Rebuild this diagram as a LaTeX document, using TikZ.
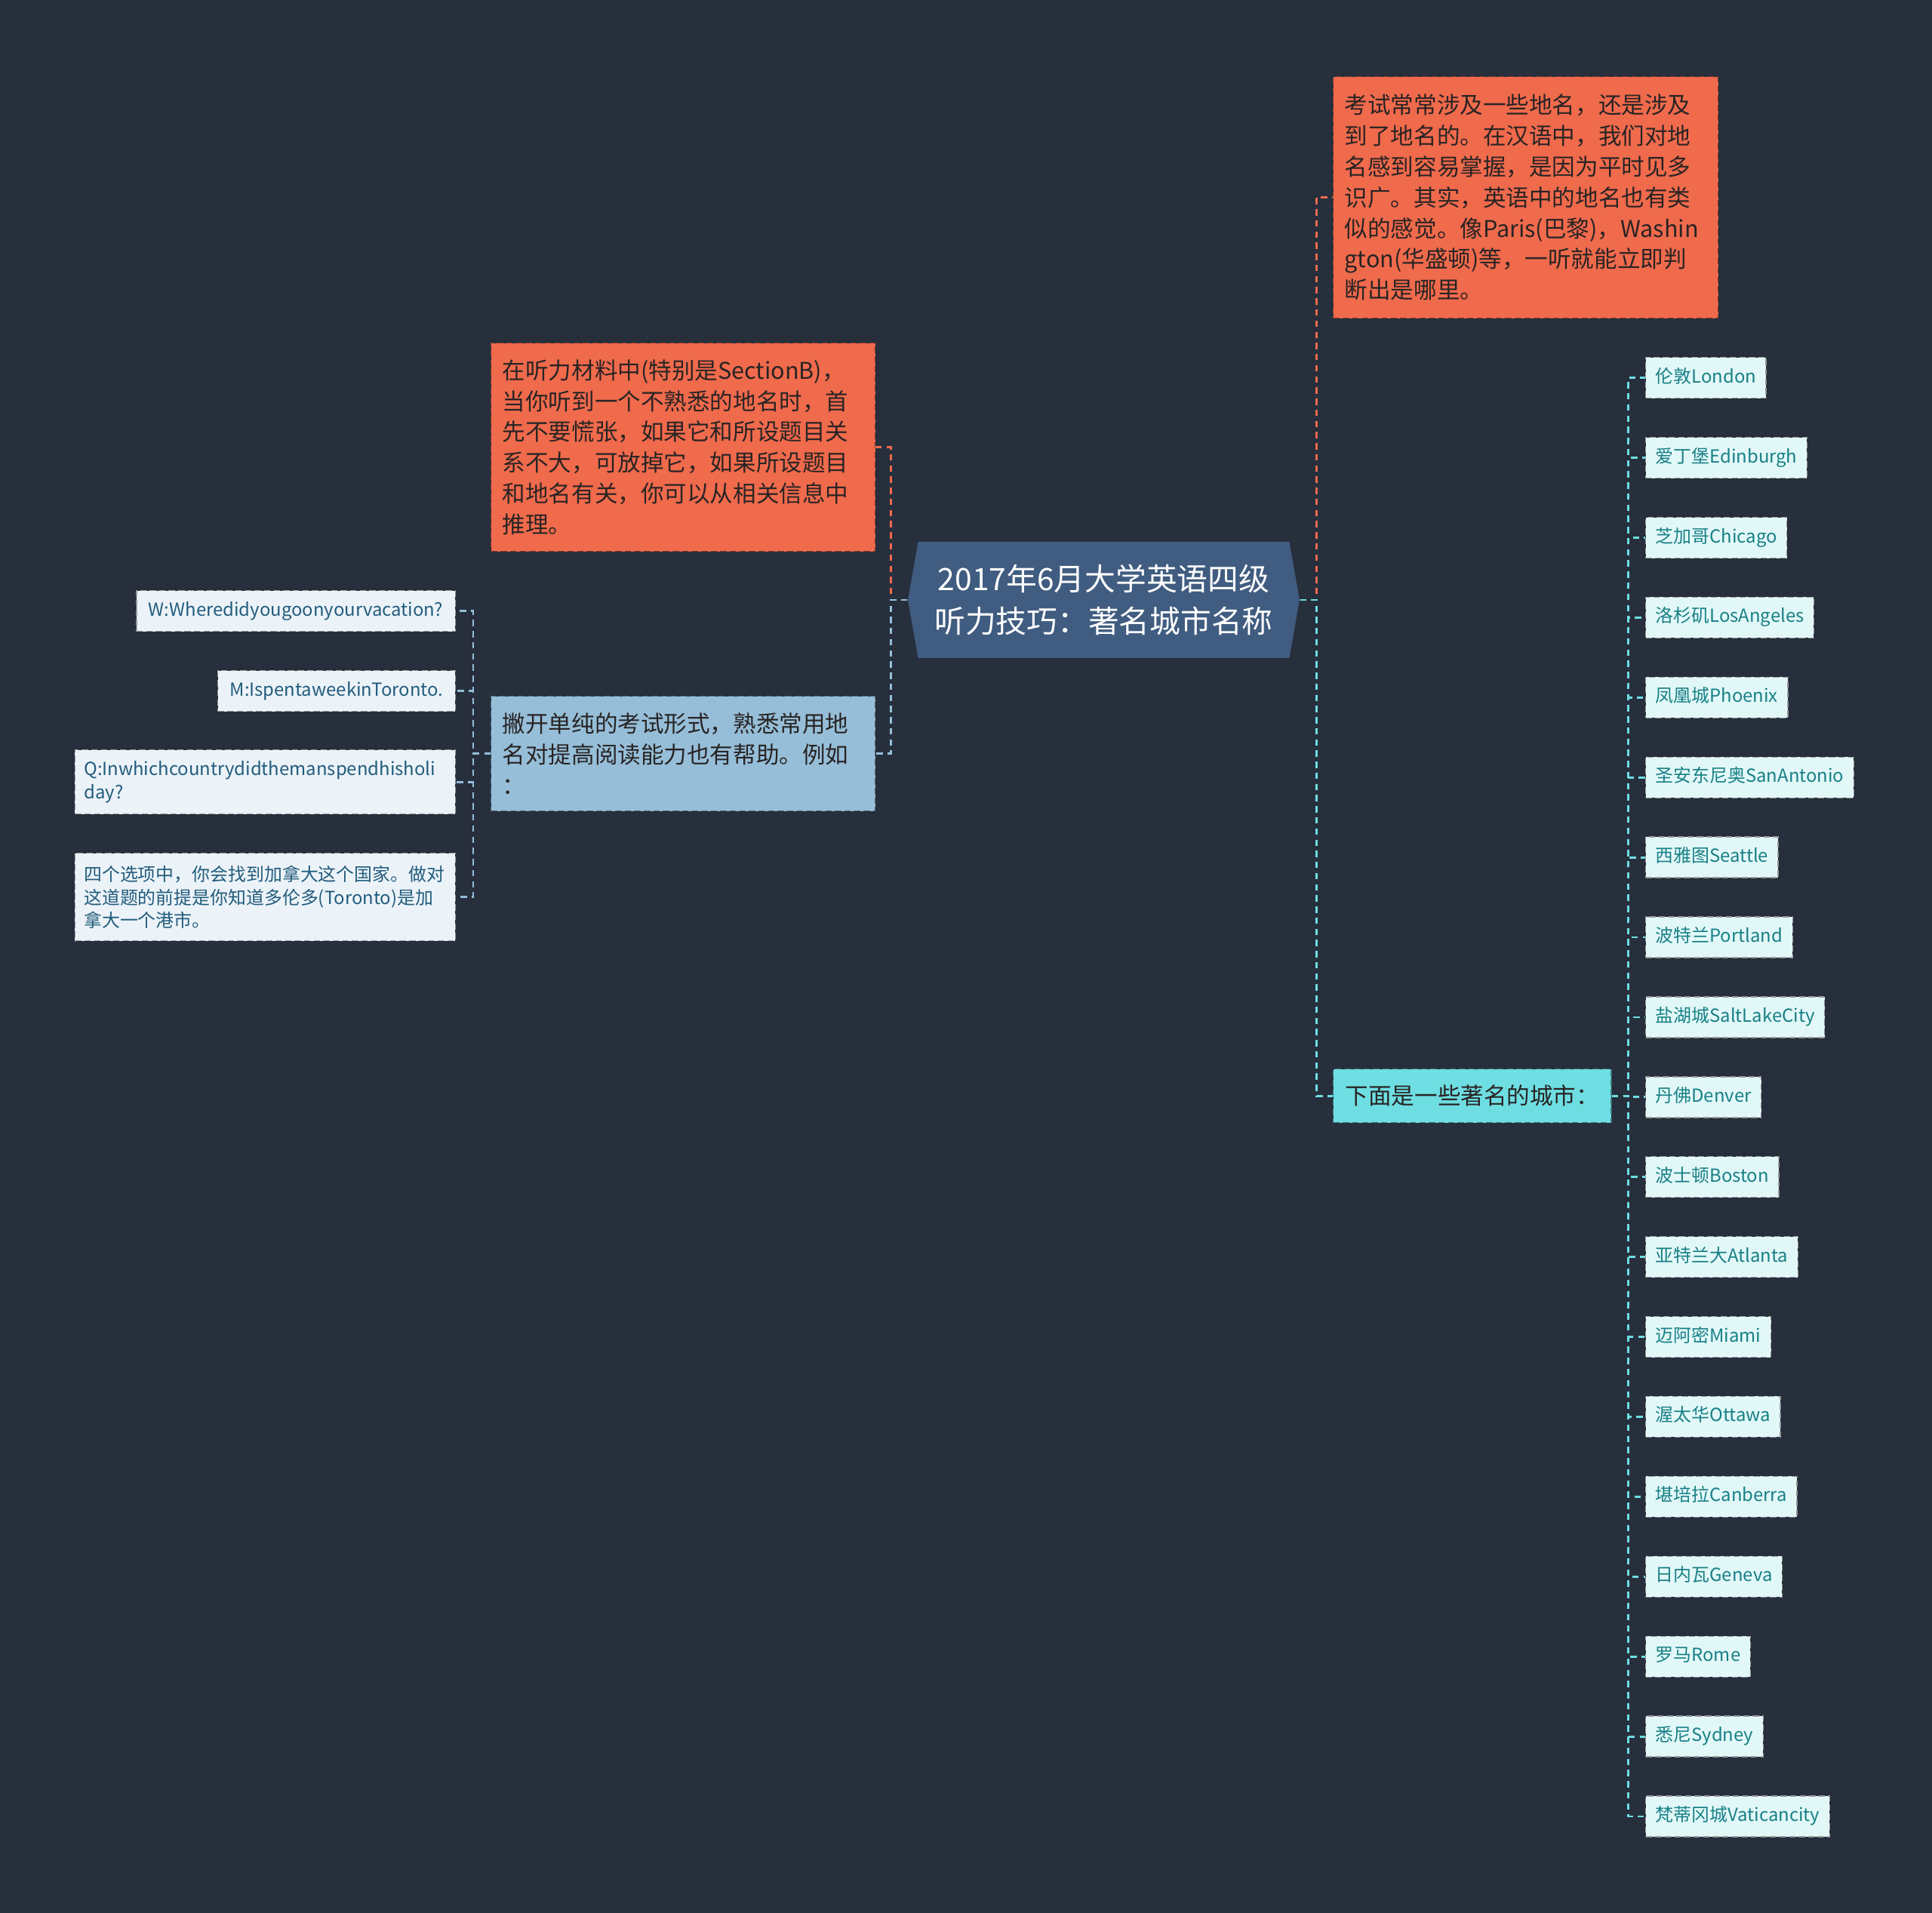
\documentclass[tikz,border=0pt]{standalone}
\usepackage{fontspec}
\setmainfont{Noto Sans CJK SC}
\usepackage{xcolor}
\usepackage{tikz}
\usetikzlibrary{shapes.symbols, positioning}

\definecolor{bgdark}{RGB}{39,47,61}
\definecolor{rootblue}{RGB}{64,92,128}
\definecolor{tipred}{RGB}{240,106,76}
\definecolor{tipblue}{RGB}{150,190,216}
\definecolor{tipcyan}{RGB}{110,222,226}
\definecolor{leafblue}{RGB}{236,243,248}
\definecolor{leafcyan}{RGB}{226,248,248}
\definecolor{inkblue}{RGB}{34,92,125}
\definecolor{inkteal}{RGB}{24,128,134}
\definecolor{inkdark}{RGB}{40,36,36}

\begin{document}
\begin{tikzpicture}[
    node distance=0.505cm,
    root/.style={signal, signal to=west and east, signal pointer angle=160, fill=rootblue, text=white, font=\fontsize{11.6}{15.8}\selectfont, align=center, minimum width=5.19cm, minimum height=1.54cm, inner sep=0pt},
    notebox/.style={rectangle, draw=#1!55!black, fill=#1, dash pattern=on 2.4pt off 1.2pt, text=inkdark, font=\fontsize{8.7}{11.6}\selectfont, align=left, inner xsep=0.15cm, inner ysep=0pt, anchor=north west},
    leafbox/.style={rectangle, draw=black!40, fill=leafblue, dash pattern=on 2.4pt off 1.2pt, text=inkblue, font=\fontsize{6.8}{8.8}\selectfont, align=left, inner xsep=0.12cm, inner ysep=0pt, minimum height=0.54cm, anchor=north east},
    citybox/.style={rectangle, draw=black!40, fill=leafcyan, dash pattern=on 2.4pt off 1.2pt, text=inkteal, font=\fontsize{6.8}{8.8}\selectfont, inner xsep=0.13cm, inner ysep=0pt, text height=0.19cm, text depth=0.06cm, minimum height=0.54cm},
    link/.style={line width=0.8pt, dash pattern=on 2.4pt off 1.8pt}
]

\fill[bgdark] (0,0) rectangle (25.60,-25.35);

% Nodes
\node (root) [root] at (14.625,-7.95) {2017年6月大学英语四级\\听力技巧：著名城市名称};

\node (placenames) [notebox=tipred, text width=4.80cm, minimum height=3.20cm] at (17.66,-1.01) {考试常常涉及一些地名，还是涉及\\到了地名的。在汉语中，我们对地\\名感到容易掌握，是因为平时见多\\识广。其实，英语中的地名也有类\\似的感觉。像Paris(巴黎)，Washin\\gton(华盛顿)等，一听就能立即判\\断出是哪里。};
\node (famous) [notebox=tipcyan, minimum height=0.71cm, inner xsep=0.16cm] at (17.66,-14.16) {下面是一些著名的城市：};

\node (listening) [notebox=tipred, text width=4.79cm, minimum height=2.76cm] at (6.50,-4.54) {在听力材料中(特别是SectionB)，\\当你听到一个不熟悉的地名时，首\\先不要慌张，如果它和所设题目关\\系不大，可放掉它，如果所设题目\\和地名有关，你可以从相关信息中\\推理。};
\node (reading) [notebox=tipblue, text width=4.79cm, minimum height=1.52cm] at (6.50,-9.22) {撇开单纯的考试形式，熟悉常用地\\名对提高阅读能力也有帮助。例如\\：};

\node (askw) [leafbox, inner xsep=0.16cm] at (6.04,-7.82) {W:Wheredidyougoonyourvacation?};
\node (answerm) [leafbox, inner xsep=0.16cm] at (6.04,-8.88) {M:IspentaweekinToronto.};
\node (askq) [leafbox, text width=4.80cm, minimum height=0.85cm] at (6.04,-9.93) {Q:Inwhichcountrydidthemanspendhisholi\\day?};
\node (hint) [leafbox, text width=4.80cm, minimum height=1.16cm] at (6.04,-11.30) {四个选项中，你会找到加拿大这个国家。做对\\这道题的前提是你知道多伦多(Toronto)是加\\拿大一个港市。};

\node (london) [citybox, anchor=north west] at (21.80,-4.73) {伦敦London};
\node (edinburgh) [citybox, below=of london.south west, anchor=north west] {爱丁堡Edinburgh};
\node (chicago) [citybox, below=of edinburgh.south west, anchor=north west] {芝加哥Chicago};
\node (losangeles) [citybox, below=of chicago.south west, anchor=north west] {洛杉矶LosAngeles};
\node (phoenix) [citybox, below=of losangeles.south west, anchor=north west] {凤凰城Phoenix};
\node (sanantonio) [citybox, below=of phoenix.south west, anchor=north west] {圣安东尼奥SanAntonio};
\node (seattle) [citybox, below=of sanantonio.south west, anchor=north west] {西雅图Seattle};
\node (portland) [citybox, below=of seattle.south west, anchor=north west] {波特兰Portland};
\node (saltlake) [citybox, below=of portland.south west, anchor=north west] {盐湖城SaltLakeCity};
\node (denver) [citybox, below=of saltlake.south west, anchor=north west] {丹佛Denver};
\node (boston) [citybox, below=of denver.south west, anchor=north west] {波士顿Boston};
\node (atlanta) [citybox, below=of boston.south west, anchor=north west] {亚特兰大Atlanta};
\node (miami) [citybox, below=of atlanta.south west, anchor=north west] {迈阿密Miami};
\node (ottawa) [citybox, below=of miami.south west, anchor=north west] {渥太华Ottawa};
\node (canberra) [citybox, below=of ottawa.south west, anchor=north west] {堪培拉Canberra};
\node (geneva) [citybox, below=of canberra.south west, anchor=north west] {日内瓦Geneva};
\node (rome) [citybox, below=of geneva.south west, anchor=north west] {罗马Rome};
\node (sydney) [citybox, below=of rome.south west, anchor=north west] {悉尼Sydney};
\node (vatican) [citybox, below=of sydney.south west, anchor=north west] {梵蒂冈城Vaticancity};

% Connections
\draw [link, draw=tipred] (root.east) -- ++(0.22,0) |- (placenames.west);
\draw [link, draw=tipcyan] (root.east) -- ++(0.22,0) |- (famous.west);
\draw [link, draw=tipred] (root.west) -- ++(-0.22,0) |- (listening.east);
\draw [link, draw=tipblue] (root.west) -- ++(-0.22,0) |- (reading.east);

\draw [link, draw=tipblue] (reading.west) -- ++(-0.23,0) |- (askw.east);
\draw [link, draw=tipblue] (reading.west) -- ++(-0.23,0) |- (answerm.east);
\draw [link, draw=tipblue] (reading.west) -- ++(-0.23,0) |- (askq.east);
\draw [link, draw=tipblue] (reading.west) -- ++(-0.23,0) |- (hint.east);

\draw [link, draw=tipcyan] (famous.east) -- ++(0.22,0) |- (london.west);
\draw [link, draw=tipcyan] (famous.east) -- ++(0.22,0) |- (edinburgh.west);
\draw [link, draw=tipcyan] (famous.east) -- ++(0.22,0) |- (chicago.west);
\draw [link, draw=tipcyan] (famous.east) -- ++(0.22,0) |- (losangeles.west);
\draw [link, draw=tipcyan] (famous.east) -- ++(0.22,0) |- (phoenix.west);
\draw [link, draw=tipcyan] (famous.east) -- ++(0.22,0) |- (sanantonio.west);
\draw [link, draw=tipcyan] (famous.east) -- ++(0.22,0) |- (seattle.west);
\draw [link, draw=tipcyan] (famous.east) -- ++(0.22,0) |- (portland.west);
\draw [link, draw=tipcyan] (famous.east) -- ++(0.22,0) |- (saltlake.west);
\draw [link, draw=tipcyan] (famous.east) -- ++(0.22,0) |- (denver.west);
\draw [link, draw=tipcyan] (famous.east) -- ++(0.22,0) |- (boston.west);
\draw [link, draw=tipcyan] (famous.east) -- ++(0.22,0) |- (atlanta.west);
\draw [link, draw=tipcyan] (famous.east) -- ++(0.22,0) |- (miami.west);
\draw [link, draw=tipcyan] (famous.east) -- ++(0.22,0) |- (ottawa.west);
\draw [link, draw=tipcyan] (famous.east) -- ++(0.22,0) |- (canberra.west);
\draw [link, draw=tipcyan] (famous.east) -- ++(0.22,0) |- (geneva.west);
\draw [link, draw=tipcyan] (famous.east) -- ++(0.22,0) |- (rome.west);
\draw [link, draw=tipcyan] (famous.east) -- ++(0.22,0) |- (sydney.west);
\draw [link, draw=tipcyan] (famous.east) -- ++(0.22,0) |- (vatican.west);

\end{tikzpicture}
\end{document}
